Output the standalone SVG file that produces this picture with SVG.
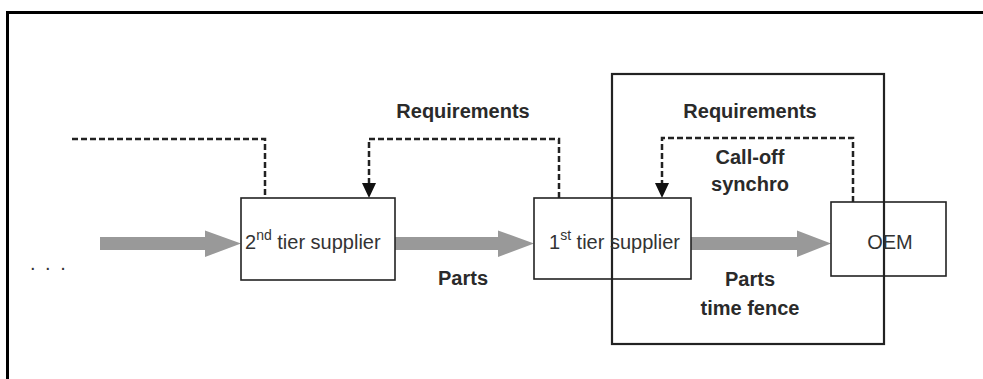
<svg xmlns="http://www.w3.org/2000/svg" width="983" height="379" viewBox="0 0 983 379">
<style>
.box{fill:none;stroke:#222;stroke-width:1.6}
.dash{fill:none;stroke:#222;stroke-width:2.5;stroke-dasharray:6 3}
.flow{fill:#999;stroke:none}
.lbl{font-family:"Liberation Sans",Arial,sans-serif;font-size:20px;font-weight:bold;fill:#2a2a2a;text-anchor:middle}
.nl{font-family:"Liberation Sans",Arial,sans-serif;font-size:20px;fill:#333}
</style>
<rect x="0" y="0" width="983" height="379" fill="#fff"/>
<path d="M7.5,379 V12.5 H983" fill="none" stroke="#000" stroke-width="3"/>
<rect id="timefence" x="612" y="74" width="272" height="270" fill="none" stroke="#222" stroke-width="2.2"/>
<g id="connectors">
<path class="flow" d="M100,237 H205 V230.5 L241,243.5 L205,257 V250 H100 Z"/>
<path class="flow" d="M395,237 H498 V230.5 L534,243.5 L498,257 V250 H395 Z"/>
<path class="flow" d="M691,237 H797 V230.5 L831,243.5 L797,257 V250 H691 Z"/>
<path class="dash" d="M72,139 H265 V198"/>
<path class="dash" d="M559,198 V139 H369 V184"/>
<path d="M362,183 L376,183 L369,198 Z" fill="#111"/>
<path class="dash" d="M853,202 V138 H662 V184"/>
<path d="M655,183 L669,183 L662,198 Z" fill="#111"/>
</g>
<g id="tier2">
<rect class="box" x="241" y="198" width="154" height="82"/>
<text class="nl" x="245" y="249" font-size="21">2<tspan font-size="14" dy="-9">nd</tspan><tspan dy="9"> tier supplier</tspan></text>
</g>
<g id="tier1">
<rect class="box" x="534" y="198" width="157" height="81"/>
<text class="nl" x="549" y="249" font-size="21">1<tspan font-size="14" dy="-9">st</tspan><tspan dy="9"> tier supplier</tspan></text>
</g>
<g id="oem">
<rect class="box" x="831" y="202" width="115" height="74"/>
<text class="nl" x="890" y="249" text-anchor="middle">OEM</text>
</g>
<g id="labels">
<text class="lbl" x="463" y="118">Requirements</text>
<text class="lbl" x="750" y="118">Requirements</text>
<text class="lbl" x="750" y="164">Call-off</text>
<text class="lbl" x="750" y="191">synchro</text>
<text class="lbl" x="463" y="285">Parts</text>
<text class="lbl" x="750" y="286">Parts</text>
<text class="lbl" x="750" y="315">time fence</text>
<text class="nl" x="30" y="270" fill="#666" letter-spacing="2">. . .</text>
</g>
</svg>
